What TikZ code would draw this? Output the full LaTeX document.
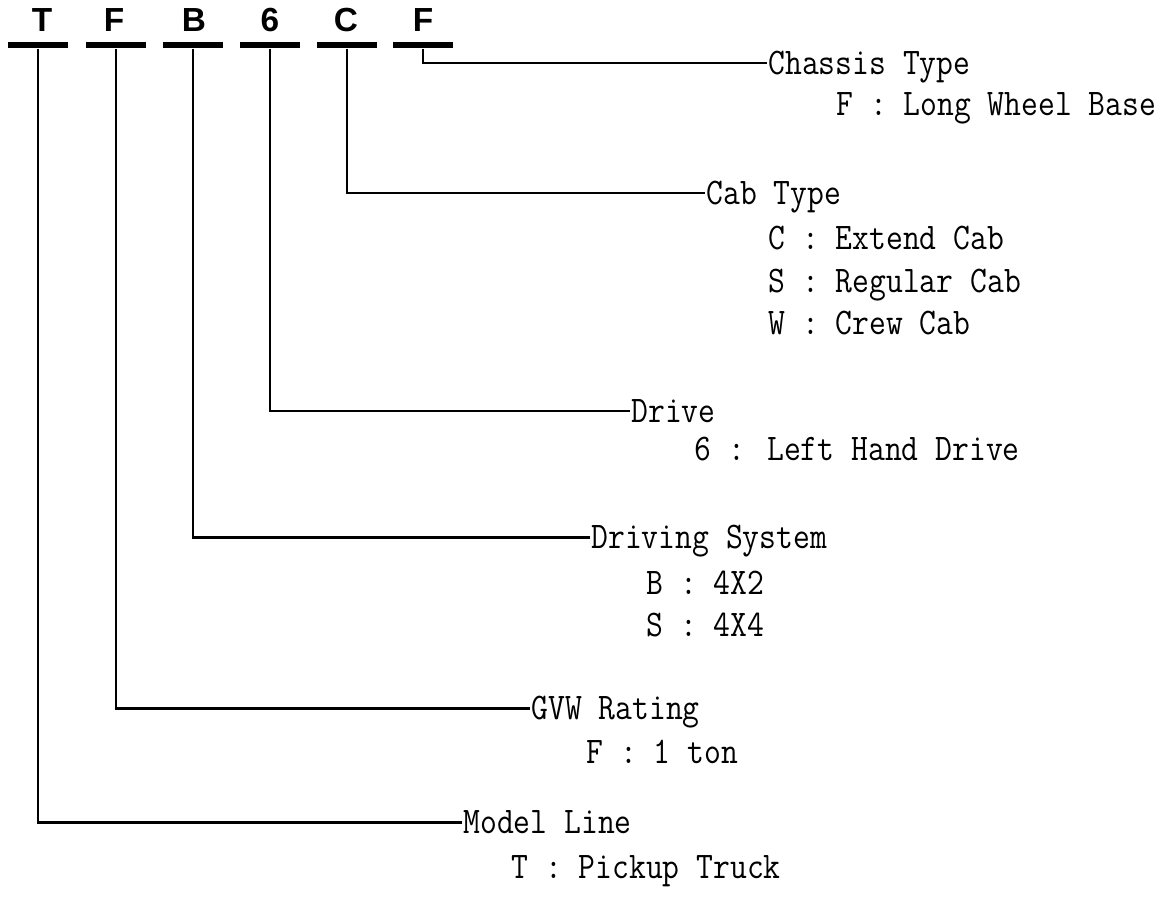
\documentclass[tikz,border=0pt]{standalone}
\usepackage{fontspec}
\newfontfamily\keyfont{Liberation Sans}
\usetikzlibrary{positioning}
\newcommand{\tallbox}[1]{\scalebox{1}[1.15]{#1}}

\begin{document}
\begin{tikzpicture}[x=0.02cm, y=-0.02cm,
    letter/.style={font=\keyfont\bfseries\fontsize{19}{20}\selectfont, inner sep=0pt},
    bar/.style={fill=black, inner sep=0pt, minimum width=1.22cm, minimum height=0.13cm},
    title/.style={anchor=west, inner sep=0.6pt, text depth=0pt, font=\ttfamily\fontsize{18.6}{20}\selectfont},
    entry/.style={title},
    link/.style={line width=1.7pt}]
        \useasboundingbox (0,0) rectangle (1161,900);

        % Code letters
        \node[letter] (lt) at (42,20) {T};
        \node[letter] (lf) at (114,20) {F};
        \node[letter] (lb) at (194,20) {B};
        \node[letter] (l6) at (270,20) {6};
        \node[letter] (lc) at (346,20) {C};
        \node[letter] (lf2) at (423,20) {F};

        % Bars under the letters
        \node[bar] (bt) at (38,45) {};
        \node[bar] (bf) at (116,45) {};
        \node[bar] (bb) at (193,45) {};
        \node[bar] (b6) at (270,45) {};
        \node[bar] (bc) at (347,45) {};
        \node[bar] (bf2) at (423,45) {};

        % Descriptions
        \node[title] (chassis) at (767,63) {\tallbox{Chassis Type}};
        \node[entry] (chassisf) at (835,104) {\tallbox{F : Long Wheel Base}};

        \node[title] (cab) at (705,193) {\tallbox{Cab Type}};
        \node[entry] (cabc) at (767,238) {\tallbox{C : Extend Cab}};
        \node[entry] (cabs) at (767,281) {\tallbox{S : Regular Cab}};
        \node[entry] (cabw) at (767,323) {\tallbox{W : Crew Cab}};

        \node[title] (drive) at (630,411) {\tallbox{Drive}};
        \node[entry] (drive6) at (693,449) {\tallbox{6 : Left Hand Drive}};

        \node[title] (system) at (590,537) {\tallbox{Driving System}};
        \node[entry] (systemb) at (645,583) {\tallbox{B : 4X2}};
        \node[entry] (systems) at (645,625) {\tallbox{S : 4X4}};

        \node[title] (gvw) at (530,708) {\tallbox{GVW Rating}};
        \node[entry] (gvwf) at (585,752) {\tallbox{F : 1 ton}};

        \node[title] (model) at (462,822) {\tallbox{Model Line}};
        \node[entry] (modelt) at (510,867) {\tallbox{T : Pickup Truck}};

        % Leader lines
        \draw[link] (bf2.south) |- (chassis.west);
        \draw[link] (bc.south) |- (cab.west);
        \draw[link] (b6.south) |- (drive.west);
        \draw[link] (bb.south) |- (system.west);
        \draw[link] (bf.south) |- (gvw.west);
        \draw[link] (bt.south) |- (model.west);
\end{tikzpicture}
\end{document}
